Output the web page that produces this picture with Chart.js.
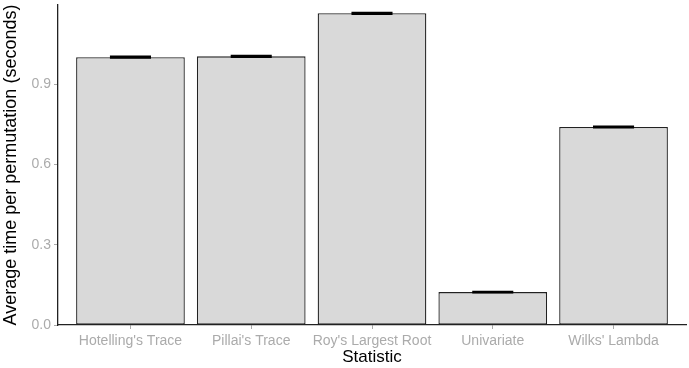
<!DOCTYPE html>
<html>
<head>
<meta charset="utf-8">
<script src="https://cdn.jsdelivr.net/npm/chart.js@4"></script>
<style>
html,body{margin:0;padding:0;background:#fff;}
#wrap{width:689px;height:368px;position:relative;}
</style>
</head>
<body>
<div id="wrap"><canvas id="c" width="689" height="368"></canvas></div>
<script>
const categories = ["Hotelling's Trace", "Pillai's Trace", "Roy's Largest Root", "Univariate", "Wilks' Lambda"];
const meanTime = [1.001, 1.004, 1.165, 0.123, 0.740];
const errLow = [0.998, 1.001, 1.162, 0.121, 0.737];
const errHigh = [1.004, 1.007, 1.168, 0.125, 0.743];
const yTicks = [0.0, 0.3, 0.6, 0.9];

const FONT = "'Liberation Sans', Arial, Helvetica, sans-serif";

const errorBars = {
  id: 'errorBars',
  afterDatasetsDraw(chart) {
    const ctx = chart.ctx;
    const xs = chart.scales.x, ys = chart.scales.y;
    const half = (xs.getPixelForValue(1.17) - xs.getPixelForValue(1));
    ctx.save();
    ctx.strokeStyle = '#000';
    ctx.lineWidth = 1.6;
    categories.forEach((c, i) => {
      const cx = xs.getPixelForValue(i + 1);
      const yl = ys.getPixelForValue(errLow[i]);
      const yh = ys.getPixelForValue(errHigh[i]);
      ctx.beginPath();
      ctx.moveTo(cx - half, yl); ctx.lineTo(cx + half, yl);
      ctx.moveTo(cx - half, yh); ctx.lineTo(cx + half, yh);
      ctx.moveTo(cx, yl); ctx.lineTo(cx, yh);
      ctx.stroke();
    });
    ctx.restore();
  }
};

new Chart(document.getElementById('c'), {
  type: 'bar',
  data: {
    datasets: [{
      data: meanTime.map((v, i) => ({x: i + 1, y: v})),
      backgroundColor: '#d9d9d9',
      borderColor: '#222',
      borderWidth: 1.3,
      borderSkipped: false,
      categoryPercentage: 0.9,
      barPercentage: 1.0
    }]
  },
  options: {
    responsive: false,
    animation: false,
    devicePixelRatio: 1,
    layout: {padding: {top: 5, right: 3, left: 0, bottom: 0}},
    plugins: {legend: {display: false}, tooltip: {enabled: false}},
    scales: {
      x: {
        type: 'linear',
        offset: false,
        min: 0.4, max: 5.6,
        afterBuildTicks: s => { s.ticks = categories.map((_, i) => ({value: i + 1})); },
        afterFit: s => { s.height = 43; s.paddingLeft = 0; s.paddingRight = 0; },
        border: {display: true, color: '#222', width: 1.3},
        grid: {display: true, offset: false, drawOnChartArea: false, drawTicks: true, tickLength: 4, color: '#aaa', lineWidth: 1},
        ticks: {
          color: '#ababab', padding: 4, maxRotation: 0, autoSkip: false,
          font: {family: FONT, size: 14},
          callback: v => categories[Math.round(v) - 1]
        },
        title: {display: true, text: 'Statistic', color: '#000', padding: {top: 1, bottom: 0}, font: {family: FONT, size: 17}}
      },
      y: {
        type: 'linear',
        min: 0, max: 1.196,
        afterBuildTicks: s => { s.ticks = yTicks.map(v => ({value: v})); },
        afterFit: s => { s.width = 58; s.paddingTop = 0; s.paddingBottom = 0; },
        border: {display: true, color: '#222', width: 1.3},
        grid: {display: true, drawOnChartArea: false, drawTicks: true, tickLength: 4, color: '#aaa', lineWidth: 1},
        ticks: {
          color: '#ababab', padding: 3,
          font: {family: FONT, size: 14},
          callback: v => Number(v).toFixed(1)
        },
        title: {display: true, text: 'Average time per permutation (seconds)', color: '#000', padding: {top: 0, bottom: 1}, font: {family: FONT, size: 18}}
      }
    }
  },
  plugins: [errorBars]
});
</script>
</body>
</html>
